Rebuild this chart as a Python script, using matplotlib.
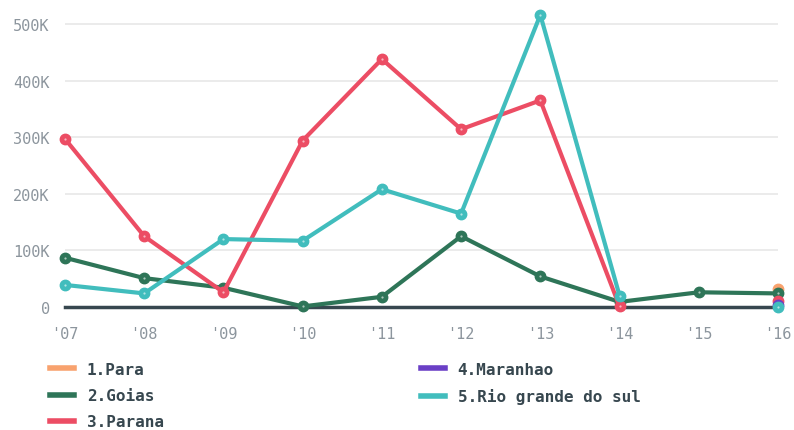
import numpy as np
import matplotlib
matplotlib.use('Agg')
import matplotlib.pyplot as plt
from matplotlib.lines import Line2D

years = ["'07", "'08", "'09", "'10", "'11", "'12", "'13", "'14", "'15", "'16"]
nan = np.nan
para = [nan, nan, nan, nan, nan, nan, nan, nan, nan, 32000]
goias = [87000, 51000, 34000, 1000, 18000, 125000, 54000, 9000, 26000, 24000]
parana = [297000, 125000, 26000, 294000, 438000, 314000, 365000, 1000, nan, 11000]
maranhao = [nan, nan, nan, nan, nan, nan, nan, nan, nan, 3000]
rio_grande = [39000, 24000, 120000, 117000, 208000, 165000, 516000, 20000, nan, 0]

series = [
    ('1.Para', para, '#F8A26E'),
    ('2.Goias', goias, '#2E7558'),
    ('3.Parana', parana, '#EC4D64'),
    ('4.Maranhao', maranhao, '#6A3FC6'),
    ('5.Rio grande do sul', rio_grande, '#41BDBD'),
]

text_col = '#37474F'
tick_col = '#8C959D'
mono = 'DejaVu Sans Mono'

fig = plt.figure(figsize=(7.94, 4.31), dpi=100)
ax = fig.add_axes([65 / 794, 1 - 308 / 431, 713 / 794, 300 / 431])

x = np.arange(len(years))
ax.plot([0, len(years) - 1], [0, 0], color=text_col, lw=2.5, zorder=2, clip_on=False)

# draw so that the small values at '16 stack like the reference
draw_order = [4, 3, 1, 2, 0]
for i in draw_order:
    name, vals, col = series[i]
    ax.plot(x, vals, color=col, lw=3, marker='o', ms=7.5, mfc=col, mec=col, mew=1,
            clip_on=False, zorder=3 + i)
    ax.plot(x, vals, ls='none', marker='o', ms=1.6, mfc='#FFFFFF', mec='none',
            alpha=0.6, clip_on=False, zorder=3 + i)

ax.set_xlim(0, len(years) - 1)
ax.set_ylim(0, 530000)
ax.set_yticks([0, 100000, 200000, 300000, 400000, 500000])
ax.set_yticklabels(['0', '100K', '200K', '300K', '400K', '500K'])
ax.set_xticks(x)
ax.set_xticklabels(years)
ax.grid(axis='y', color='#E8E8E8', lw=1.2)
ax.set_axisbelow(True)
for s in ax.spines.values():
    s.set_visible(False)
ax.tick_params(length=0, colors=tick_col, labelsize=11)
ax.tick_params(axis='y', pad=11)
ax.tick_params(axis='x', pad=14)
for lab in ax.get_xticklabels() + ax.get_yticklabels():
    lab.set_family(mono)

handles = [Line2D([], [], color=c, lw=4) for _, _, c in series]
labels = [n for n, _, _ in series]
leg_kw = dict(frameon=False, handlelength=1.5, handletextpad=0.8, labelspacing=0.7,
              prop={'family': mono, 'weight': 'bold', 'size': 11.5}, labelcolor=text_col,
              borderaxespad=0, borderpad=0)
fig.legend(handles[:3], labels[:3], loc='upper left', bbox_to_anchor=(50 / 794, 1 - 363 / 431), **leg_kw)
fig.legend(handles[3:], labels[3:], loc='upper left', bbox_to_anchor=(421 / 794, 1 - 363 / 431), **leg_kw)

fig.savefig('out.png', dpi=100)
